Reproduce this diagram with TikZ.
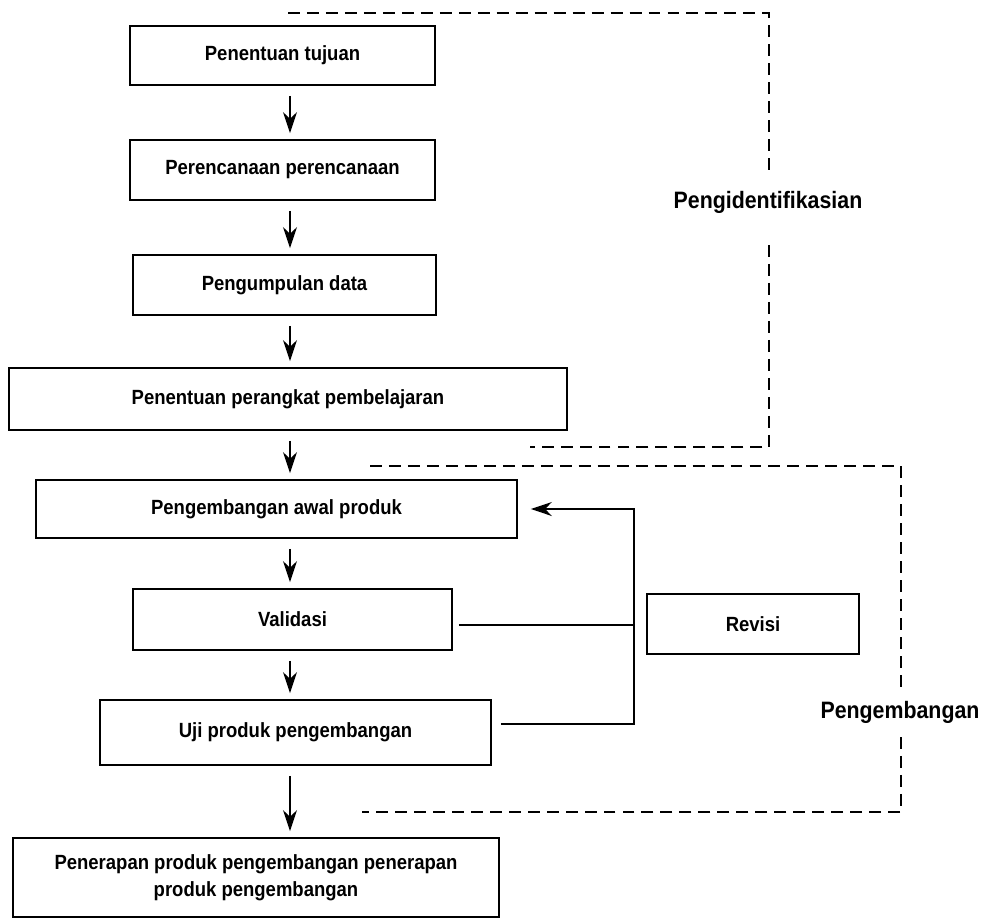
\documentclass[tikz,border=0pt]{standalone}
\usepackage{fontspec}
\setmainfont{Liberation Sans}[FakeStretch=0.9]
\usetikzlibrary{arrows.meta, calc}

\begin{document}
\begin{tikzpicture}[x=0.02cm, y=-0.02cm,
  stepbox/.style={draw, line width=1pt, align=center, inner sep=0pt,
    font=\fontsize{11.7}{15.4}\selectfont\bfseries},
  flow/.style={line width=0.9pt, -{Stealth[length=12pt, width=8pt]},
    shorten <=0.2cm, shorten >=0.12cm},
  link/.style={line width=0.9pt},
  phase/.style={line width=0.8pt, dash pattern=on 6.8pt off 4pt},
  phaselabel/.style={font=\fontsize{13.5}{16}\selectfont\bfseries, inner sep=0pt}]
  \useasboundingbox (0,0) rectangle (984,920);

  % Steps
  \node[stepbox, minimum width=6.1cm, minimum height=1.18cm] (tujuan) at (282.5,55.5) {Penentuan tujuan};
  \node[stepbox, minimum width=6.1cm, minimum height=1.2cm] (rencana) at (282.5,170) {Perencanaan perencanaan};
  \node[stepbox, minimum width=6.06cm, minimum height=1.2cm] (data) at (284.5,285) {Pengumpulan data};
  \node[stepbox, minimum width=11.16cm, minimum height=1.24cm] (perangkat) at (288,399) {Penentuan perangkat pembelajaran};
  \node[stepbox, minimum width=9.62cm, minimum height=1.16cm] (awal) at (276.5,509) {Pengembangan awal produk};
  \node[stepbox, minimum width=6.38cm, minimum height=1.22cm] (validasi) at (292.5,619.5) {Validasi};
  \node[stepbox, minimum width=7.82cm, minimum height=1.3cm] (uji) at (295.5,732.5) {Uji produk pengembangan};
  \node[stepbox, minimum width=9.72cm, minimum height=1.58cm] (terap) at (256,877.5) {Penerapan produk pengembangan penerapan\\produk pengembangan};
  \node[stepbox, minimum width=4.24cm, minimum height=1.2cm] (revisi) at (753,624) {Revisi};

  % Main flow
  \coordinate (ax) at (290,0);
  \draw[flow] (tujuan.south -| ax) -- (rencana.north -| ax);
  \draw[flow] (rencana.south -| ax) -- (data.north -| ax);
  \draw[flow] (data.south -| ax) -- (perangkat.north -| ax);
  \draw[flow] (perangkat.south -| ax) -- (awal.north -| ax);
  \draw[flow] (awal.south -| ax) -- (validasi.north -| ax);
  \draw[flow] (validasi.south -| ax) -- (uji.north -| ax);
  \draw[flow] (uji.south -| ax) -- (terap.north -| ax);

  % Feedback loop
  \coordinate (fb) at (634,0);
  \draw[link] ([xshift=0.12cm, yshift=-0.11cm]validasi.east) -- ([yshift=-0.11cm]validasi.east -| fb);
  \draw[flow, shorten <=0pt, shorten >=0.26cm] ([xshift=0.18cm, yshift=0.17cm]uji.east)
    -- ([yshift=0.17cm]uji.east -| fb) -- (awal.east -| fb) -- (awal.east);

  % Phase: Pengidentifikasian
  \coordinate (id1) at (288,13);
  \coordinate (id2) at (769,13);
  \coordinate (id2b) at (769,170);
  \coordinate (id3a) at (769,245);
  \coordinate (id3) at (769,447);
  \coordinate (id4) at (530,447);
  \node[phaselabel] (idlabel) at (768,202) {Pengidentifikasian};
  \draw[phase] (id1) -- (id2) -- (id2b);
  \draw[phase] (id3a) -- (id3) -- (id4);

  % Phase: Pengembangan
  \coordinate (pg1) at (370,466);
  \coordinate (pg2) at (901,466);
  \coordinate (pg2b) at (901,688);
  \coordinate (pg3a) at (901,737);
  \coordinate (pg3) at (901,812);
  \coordinate (pg4) at (362,812);
  \node[phaselabel] (pglabel) at (900,712) {Pengembangan};
  \draw[phase] (pg1) -- (pg2) -- (pg2b);
  \draw[phase] (pg3a) -- (pg3) -- (pg4);
\end{tikzpicture}
\end{document}
